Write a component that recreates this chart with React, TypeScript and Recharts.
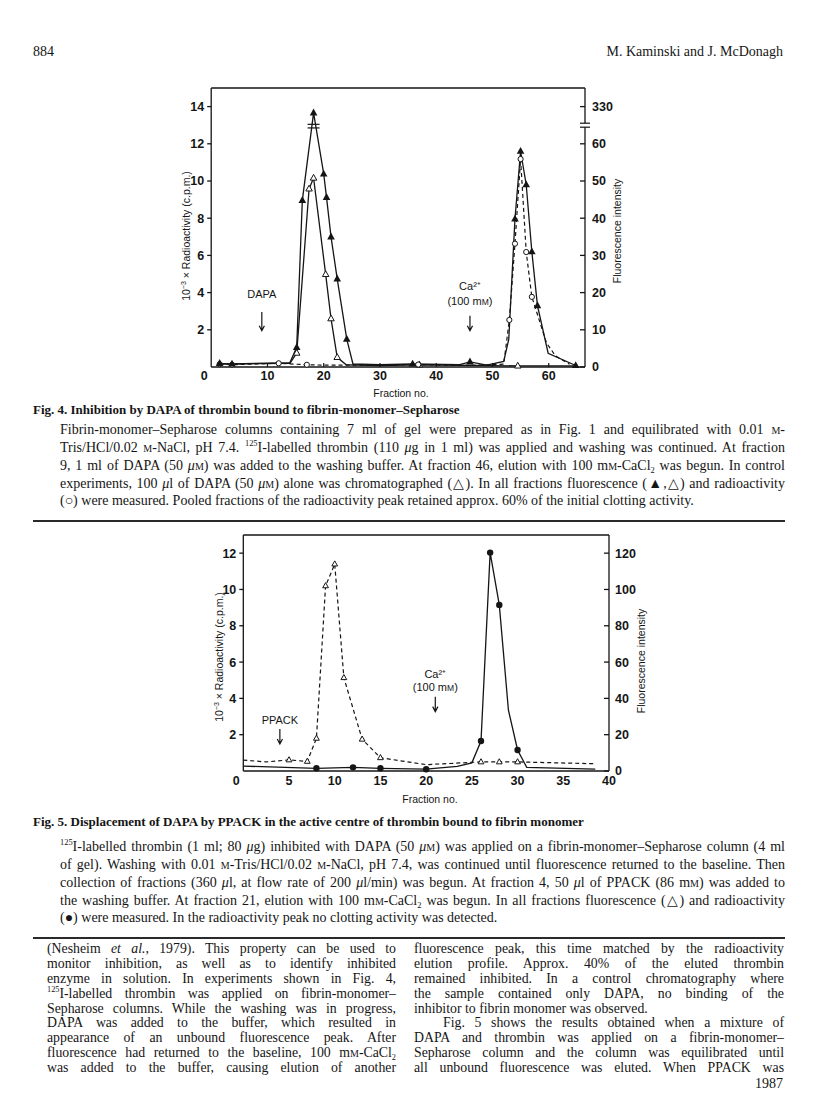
import React from 'react';
import { ComposedChart, Line, XAxis, YAxis, ReferenceLine, ReferenceDot } from 'recharts';

type Pt = { f: number; v: number };
const pts = (a: number[][]): Pt[] => a.map(([f, v]) => ({ f, v }));
const trace = (a: Pt[], b: Pt[]) => [...a, ...b].sort((p, q) => p.f - q.f);

// Fig. 4 — fluorescence, arbitrary units on the right axis (70 on that axis is labelled 330, above the break)
const fig4FluorMarks = pts([
  [1.5, 1.0], [3.7, 0.8], [15.2, 5.3], [16.2, 44.8], [18.2, 68.3], [20, 51.9], [20.5, 45.6],
  [21.3, 35.0], [22.4, 23.7], [24.1, 7.5], [35.8, 0.8], [46, 1.4],
  [54, 39.8], [55, 58.0], [56, 49.0], [57, 31.0], [58, 16.5], [64.8, 0.4],
]);
const fig4FluorBends = pts([[14, 1.2], [25.2, 0.8], [30, 0.6], [44, 0.6], [49, 0.5], [52, 1.5], [52.9, 7.5], [59.9, 3.7]]);

// Fig. 4 — control, DAPA alone (fluorescence)
const fig4ControlMarks = pts([[15.2, 3.75], [17.4, 47.9], [18.2, 50.8], [20.35, 24.9], [21.3, 13.0], [22.4, 2.6], [37, 0.6], [54.5, 0.3]]);
const fig4ControlBends = pts([[1.5, 0.8], [14, 1.0], [24, 0.6], [30, 0.4], [64.8, 0.3]]);

// Fig. 4 — radioactivity, 10^-3 x c.p.m. (left axis)
const fig4RadioMarks = pts([
  [1.5, 0.15], [3.7, 0.12], [12, 0.2], [17, 0.12], [36.8, 0.13],
  [53, 2.53], [54, 6.63], [55, 11.18], [56, 6.18], [57, 3.77],
]);
const fig4RadioBends = pts([[20, 0.1], [30, 0.1], [45, 0.08], [52, 0.15], [59.6, 1.3], [61.2, 0.6], [63.7, 0.15]]);

// Fig. 5 — fluorescence (right axis)
const fig5FluorMarks = pts([[5, 6.1], [7, 5.3], [8, 18], [9, 102], [10, 114], [11, 51.4], [13, 17.5], [15, 7.3], [26, 5], [28, 5], [30, 5]]);
const fig5FluorBends = pts([[0, 6], [2.5, 5], [20, 3.5], [24, 4.5], [38.5, 4]]);

// Fig. 5 — radioactivity (left axis)
const fig5RadioMarks = pts([[8, 0.15], [12, 0.2], [15, 0.15], [20, 0.1], [26, 1.65], [27, 12.03], [28, 9.15], [30, 1.16]]);
const fig5RadioBends = pts([[0, 0.27], [23.4, 0.25], [25, 0.45], [29, 3.35], [31, 0.2], [38.5, 0.1]]);

const fig4XTicks = [0, 10, 20, 30, 40, 50, 60];
const fig4LeftTicks = [2, 4, 6, 8, 10, 12, 14];
const fig4RightTicks = [0, 10, 20, 30, 40, 50, 60, 70];
const fig5XTicks = [0, 5, 10, 15, 20, 25, 30, 35, 40];
const fig5LeftTicks = [2, 4, 6, 8, 10, 12];
const fig5RightTicks = [0, 20, 40, 60, 80, 100, 120];

const INK = '#151515';
const SANS = '"Liberation Sans", Arial, sans-serif';
const SERIF = '"Liberation Serif", "Times New Roman", serif';

const tickStyle = { fontFamily: SANS, fontSize: 12.5, fontWeight: 700, fill: INK };

const triFilled = (p: any) => {
  const { cx, cy, index } = p;
  if (cx == null || cy == null) return <g key={index} />;
  return <path key={index} d={`M${cx},${cy - 4.3} L${cx + 3.8},${cy + 2.6} L${cx - 3.8},${cy + 2.6} Z`} fill={INK} />;
};
const triOpen = (s: number) => (p: any) => {
  const { cx, cy, index } = p;
  if (cx == null || cy == null) return <g key={index} />;
  return (
    <path key={index} d={`M${cx},${cy - s} L${cx + s * 0.9},${cy + s * 0.6} L${cx - s * 0.9},${cy + s * 0.6} Z`}
      fill="#fff" stroke={INK} strokeWidth={1} />
  );
};
const circOpen = (p: any) => {
  const { cx, cy, index } = p;
  if (cx == null || cy == null) return <g key={index} />;
  return <circle key={index} cx={cx} cy={cy} r={2.6} fill="#fff" stroke={INK} strokeWidth={1} />;
};
const circFilled = (p: any) => {
  const { cx, cy, index } = p;
  if (cx == null || cy == null) return <g key={index} />;
  return <circle key={index} cx={cx} cy={cy} r={3.2} fill={INK} />;
};

const makeXTick = (inward: number, below: number) => (p: any) => {
  const { x, y, payload } = p;
  const v = payload.value;
  return (
    <g>
      {inward > 0 && v !== 0 && <line x1={x} x2={x} y1={y} y2={y - inward} stroke={INK} strokeWidth={1.2} />}
      <text x={v === 0 ? x - 7 : x} y={y + below} dy="0.36em" textAnchor="middle" style={tickStyle}>{v}</text>
    </g>
  );
};

// arrow pointing down to (cx, cy) with one or two lines of text above it
const arrowNote = (lines: React.ReactNode[], len: number, gap: number, step: number) => (p: any) => {
  const { cx, cy } = p;
  return (
    <g>
      <path d={`M${cx},${cy - len} L${cx},${cy} M${cx - 2.6},${cy - 5} L${cx},${cy} L${cx + 2.6},${cy - 5}`}
        stroke={INK} strokeWidth={1.2} fill="none" />
      {lines.map((t, i) => (
        <text key={i} x={cx} y={cy - len - gap - (lines.length - 1 - i) * step} dy="0.35em" textAnchor="middle"
          style={{ fontFamily: SANS, fontSize: 11, fill: INK }}>{t}</text>
      ))}
    </g>
  );
};

const axisBreak = (p: any) => {
  const { cx, cy } = p;
  return (
    <g stroke={INK} strokeWidth={1.2}>
      <rect x={cx - 2} y={cy - 2} width={4} height={4} fill="#fff" stroke="none" />
      <line x1={cx - 5} x2={cx + 5} y1={cy - 2} y2={cy - 2} />
      <line x1={cx - 5} x2={cx + 5} y1={cy + 2} y2={cy + 2} />
    </g>
  );
};

const peakBreak = (p: any) => {
  const { cx, cy } = p;
  return (
    <g stroke={INK} strokeWidth={1.2}>
      <line x1={cx - 6} x2={cx + 6} y1={cy - 1.8} y2={cy - 1.8} />
      <line x1={cx - 6} x2={cx + 6} y1={cy + 1.8} y2={cy + 1.8} />
    </g>
  );
};

const mM = (
  <>
    (100 m<tspan fontSize={8.5}>M</tspan>)
  </>
);

const Fig4 = () => (
  <ComposedChart width={500} height={330} margin={{ top: 18, right: 15, bottom: 8, left: 20 }}>
    <XAxis dataKey="f" type="number" domain={[0, 66.45]} ticks={fig4XTicks} interval={0} height={25}
      tickLine={false} tickSize={0} tickMargin={0} tick={makeXTick(4, 8)} stroke={INK} strokeWidth={1.3} />
    <YAxis yAxisId="left" dataKey="v" domain={[0, 15]} ticks={fig4LeftTicks} interval={0} width={41.2}
      tickSize={4} tickMargin={3} tick={tickStyle} stroke={INK} strokeWidth={1.3} />
    <YAxis yAxisId="right" orientation="right" dataKey="v" domain={[0, 75]} ticks={fig4RightTicks} interval={0} width={50}
      tickSize={-5} tickMargin={12} tick={tickStyle} tickFormatter={(v: number) => (v === 70 ? '330' : String(v))}
      stroke={INK} strokeWidth={1.3} />
    <ReferenceLine yAxisId="left" y={15} stroke={INK} strokeWidth={1.3} />
    <Line yAxisId="right" data={trace(fig4FluorMarks, fig4FluorBends)} dataKey="v" stroke={INK} strokeWidth={1.3} dot={false} isAnimationActive={false} />
    <Line yAxisId="right" data={trace(fig4ControlMarks, fig4ControlBends)} dataKey="v" stroke={INK} strokeWidth={1.3} dot={false} isAnimationActive={false} />
    <Line yAxisId="left" data={trace(fig4RadioMarks, fig4RadioBends)} dataKey="v" stroke={INK} strokeWidth={1.2} strokeDasharray="4 3" dot={false} isAnimationActive={false} />
    <Line yAxisId="right" data={fig4ControlMarks} dataKey="v" stroke="none" dot={triOpen(3.6)} isAnimationActive={false} />
    <Line yAxisId="left" data={fig4RadioMarks} dataKey="v" stroke="none" dot={circOpen} isAnimationActive={false} />
    <Line yAxisId="right" data={fig4FluorMarks} dataKey="v" stroke="none" dot={triFilled} isAnimationActive={false} />
    <ReferenceDot yAxisId="left" x={18.2} y={12.95} shape={peakBreak} />
    <ReferenceDot yAxisId="right" x={66.45} y={65} shape={axisBreak} />
    <ReferenceDot yAxisId="left" x={9} y={1.95} shape={arrowNote(['DAPA'], 18.7, 18, 15)} />
    <ReferenceDot yAxisId="left" x={46} y={1.95} shape={arrowNote(['Ca²⁺', mM], 15, 15, 15)} />
  </ComposedChart>
);

const Fig5 = () => (
  <ComposedChart width={480} height={290} margin={{ top: 20, right: 11, bottom: 8, left: 20 }}>
    <XAxis dataKey="f" type="number" domain={[0, 40]} ticks={fig5XTicks} interval={0} height={26}
      tickLine={false} tickSize={0} tickMargin={0} tick={makeXTick(0, 9)} stroke={INK} strokeWidth={1.3} />
    <YAxis yAxisId="left" dataKey="v" domain={[0, 13]} ticks={fig5LeftTicks} interval={0} width={43.3}
      tickSize={4} tickMargin={3} tick={tickStyle} stroke={INK} strokeWidth={1.3} />
    <YAxis yAxisId="right" orientation="right" dataKey="v" domain={[0, 130]} ticks={fig5RightTicks} interval={0} width={40}
      tickSize={-5} tickMargin={11} tick={tickStyle} stroke={INK} strokeWidth={1.3} />
    <ReferenceLine yAxisId="left" y={13} stroke={INK} strokeWidth={1.3} />
    <Line yAxisId="right" data={trace(fig5FluorMarks, fig5FluorBends)} dataKey="v" stroke={INK} strokeWidth={1.2} strokeDasharray="4 3" dot={false} isAnimationActive={false} />
    <Line yAxisId="left" data={trace(fig5RadioMarks, fig5RadioBends)} dataKey="v" stroke={INK} strokeWidth={1.3} dot={false} isAnimationActive={false} />
    <Line yAxisId="right" data={fig5FluorMarks} dataKey="v" stroke="none" dot={triOpen(3.2)} isAnimationActive={false} />
    <Line yAxisId="left" data={fig5RadioMarks} dataKey="v" stroke="none" dot={circFilled} isAnimationActive={false} />
    <ReferenceDot yAxisId="left" x={4} y={1.49} shape={arrowNote(['PPACK'], 15, 8.5, 12)} />
    <ReferenceDot yAxisId="left" x={21} y={3.27} shape={arrowNote(['Ca²⁺', mM], 15, 9.5, 12.5)} />
  </ComposedChart>
);

const Sc = ({ children }: { children: React.ReactNode }) => <span style={{ fontVariant: 'small-caps' }}>{children}</span>;
// raised/lowered small figures that do not stretch the line box
const Up = ({ children }: { children: React.ReactNode }) => (
  <span style={{ fontSize: '0.6em', position: 'relative', top: '-0.75em', lineHeight: 0 }}>{children}</span>
);
const Dn = ({ children }: { children: React.ReactNode }) => (
  <span style={{ fontSize: '0.6em', position: 'relative', top: '0.35em', lineHeight: 0 }}>{children}</span>
);

const Txt = ({ x, y, w, size = 14, justify = false, right = false, bold = false, children }: any) => (
  <div style={{
    position: 'absolute', left: x, top: y - size * 0.62, width: w, fontSize: size, lineHeight: `${size * 1.2}px`,
    fontFamily: SERIF, fontWeight: bold ? 700 : 400, color: INK, whiteSpace: 'nowrap',
    textAlign: right ? 'right' : justify ? 'justify' : 'left', textAlignLast: right ? 'right' : justify ? 'justify' : 'left',
  }}>{children}</div>
);

const Rot = ({ x, y, size = 10.5, children }: any) => (
  <div style={{
    position: 'absolute', left: x, top: y, transform: 'translate(-50%, -50%) rotate(-90deg)', whiteSpace: 'nowrap',
    fontFamily: SANS, fontSize: size, color: INK,
  }}>{children}</div>
);

const Mid = ({ x, y, size = 10.5, children }: any) => (
  <div style={{
    position: 'absolute', left: x, top: y, transform: 'translate(-50%, -50%)', whiteSpace: 'nowrap',
    fontFamily: SANS, fontSize: size, color: INK,
  }}>{children}</div>
);

const Rule = ({ y }: { y: number }) => (
  <div style={{ position: 'absolute', left: 33, top: y, width: 752, height: 2, background: '#2a2a2a' }} />
);

const CAP = 17.75;
const BODY = 14.8;

export default function App() {
  const c4 = [
    <>Fibrin-monomer–Sepharose columns containing 7 ml of gel were prepared as in Fig. 1 and equilibrated with 0.01 <Sc>m</Sc>-</>,
    <>Tris/HCl/0.02 <Sc>m</Sc>-NaCl, pH 7.4. <Up>125</Up>I-labelled thrombin (110 <i>μ</i>g in 1 ml) was applied and washing was continued. At fraction</>,
    <>9, 1 ml of DAPA (50 <i>μ</i><Sc>m</Sc>) was added to the washing buffer. At fraction 46, elution with 100 m<Sc>m</Sc>-CaCl<Dn>2</Dn> was begun. In control</>,
    <>experiments, 100 <i>μ</i>l of DAPA (50 <i>μ</i><Sc>m</Sc>) alone was chromatographed (△). In all fractions fluorescence (▲,△) and radioactivity</>,
    <>(○) were measured. Pooled fractions of the radioactivity peak retained approx. 60% of the initial clotting activity.</>,
  ];
  const c5 = [
    <><Up>125</Up>I-labelled thrombin (1 ml; 80 <i>μ</i>g) inhibited with DAPA (50 <i>μ</i><Sc>m</Sc>) was applied on a fibrin-monomer–Sepharose column (4 ml</>,
    <>of gel). Washing with 0.01 <Sc>m</Sc>-Tris/HCl/0.02 <Sc>m</Sc>-NaCl, pH 7.4, was continued until fluorescence returned to the baseline. Then</>,
    <>collection of fractions (360 <i>μ</i>l, at flow rate of 200 <i>μ</i>l/min) was begun. At fraction 4, 50 <i>μ</i>l of PPACK (86 m<Sc>m</Sc>) was added to</>,
    <>the washing buffer. At fraction 21, elution with 100 m<Sc>m</Sc>-CaCl<Dn>2</Dn> was begun. In all fractions fluorescence (△) and radioactivity</>,
    <>(●) were measured. In the radioactivity peak no clotting activity was detected.</>,
  ];
  const left = [
    <>(Nesheim <i>et al.</i>, 1979). This property can be used to</>,
    <>monitor inhibition, as well as to identify inhibited</>,
    <>enzyme in solution. In experiments shown in Fig. 4,</>,
    <><Up>125</Up>I-labelled thrombin was applied on fibrin-monomer–</>,
    <>Sepharose columns. While the washing was in progress,</>,
    <>DAPA was added to the buffer, which resulted in</>,
    <>appearance of an unbound fluorescence peak. After</>,
    <>fluorescence had returned to the baseline, 100 m<Sc>m</Sc>-CaCl<Dn>2</Dn></>,
    <>was added to the buffer, causing elution of another</>,
  ];
  const right = [
    <>fluorescence peak, this time matched by the radioactivity</>,
    <>elution profile. Approx. 40% of the eluted thrombin</>,
    <>remained inhibited. In a control chromatography where</>,
    <>the sample contained only DAPA, no binding of the</>,
    <>inhibitor to fibrin monomer was observed.</>,
    <>&nbsp;&nbsp;&nbsp;Fig. 5 shows the results obtained when a mixture of</>,
    <>DAPA and thrombin was applied on a fibrin-monomer–</>,
    <>Sepharose column and the column was equilibrated until</>,
    <>all unbound fluorescence was eluted. When PPACK was</>,
  ];
  return (
    <div style={{ position: 'absolute', left: 0, top: 0, width: 816, height: 1096, background: '#fff', overflow: 'hidden' }}>
      <Txt x={33} y={53} w={100} size={14}>884</Txt>
      <Txt x={483} y={53} w={300} size={14} right>M. Kaminski and J. McDonagh</Txt>

      <div style={{ position: 'absolute', left: 150, top: 70 }}><Fig4 /></div>
      <Rot x={186} y={236}>10<sup style={{ fontSize: 7 }}>−3</sup> × Radioactivity (c.p.m.)</Rot>
      <Rot x={617} y={231}>Fluorescence intensity</Rot>
      <Mid x={401} y={393}>Fraction no.</Mid>

      <Txt x={33} y={410} w={700} size={13} bold>Fig. 4. Inhibition by DAPA of thrombin bound to fibrin-monomer–Sepharose</Txt>
      {c4.map((t, i) => (
        <Txt key={i} x={60} y={431 + i * CAP} w={725} size={14} justify={i < c4.length - 1}>{t}</Txt>
      ))}
      <Rule y={520} />

      <div style={{ position: 'absolute', left: 180, top: 515 }}><Fig5 /></div>
      <Rot x={219} y={657}>10<sup style={{ fontSize: 7 }}>−3</sup> × Radioactivity (c.p.m.)</Rot>
      <Rot x={641} y={661}>Fluorescence intensity</Rot>
      <Mid x={430} y={799}>Fraction no.</Mid>

      <Txt x={33} y={822} w={740} size={13} bold>Fig. 5. Displacement of DAPA by PPACK in the active centre of thrombin bound to fibrin monomer</Txt>
      {c5.map((t, i) => (
        <Txt key={i} x={60} y={848 + i * CAP} w={725} size={14} justify={i < c5.length - 1}>{t}</Txt>
      ))}
      <Rule y={937} />

      {left.map((t, i) => (
        <Txt key={i} x={47} y={950 + i * BODY} w={349} size={13.8} justify>{t}</Txt>
      ))}
      {right.map((t, i) => (
        <Txt key={i} x={414} y={950 + i * BODY} w={370} size={13.8} justify={i !== 4}>{t}</Txt>
      ))}
      <Txt x={683} y={1085} w={100} size={14} right>1987</Txt>
    </div>
  );
}
